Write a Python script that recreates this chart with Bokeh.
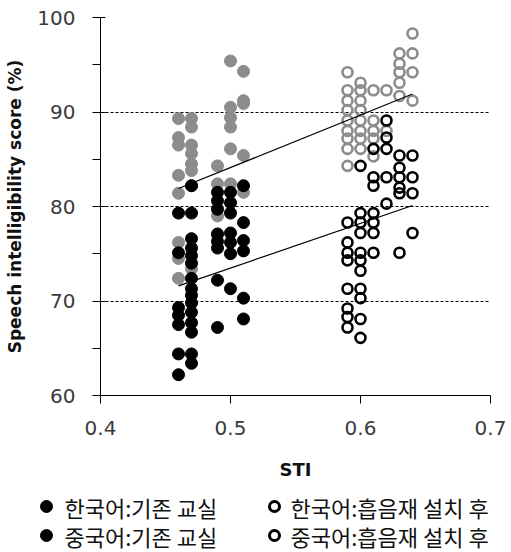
from bokeh.plotting import figure
from bokeh.layouts import column
from bokeh.models import Range1d, FixedTicker
from bokeh.core.properties import value
from bokeh.embed import file_html
from bokeh.resources import INLINE

# ---- data ----
kor_before_x = [0.46]*8 + [0.47]*8 + [0.49]*4 + [0.50]*6 + [0.51]*5
kor_before_y = [89.3, 87.3, 86.5, 83.3, 81.4, 76.2, 74.5, 72.4,
                89.3, 88.4, 86.5, 85.6, 84.5, 83.8, 82.2, 73.4,
                84.3, 82.4, 79.0, 77.0,
                95.4, 90.5, 89.4, 88.4, 86.1, 82.4,
                94.3, 91.2, 90.9, 85.4, 81.5]

chn_before_x = [0.46]*7 + [0.47]*15 + [0.49]*8 + [0.50]*7 + [0.51]*6
chn_before_y = [79.3, 75.1, 69.3, 68.5, 67.5, 64.4, 62.2,
                82.2, 79.3, 76.6, 75.6, 74.8, 74.0, 72.4, 71.3, 70.6, 69.8, 68.8, 67.7, 66.7, 64.4, 63.4,
                81.5, 80.6, 79.7, 77.1, 76.3, 75.6, 72.2, 67.2,
                81.5, 80.4, 79.3, 77.2, 76.2, 75.0, 71.3,
                82.2, 78.3, 76.4, 75.3, 70.3, 68.1]

kor_after_x = [0.59]*9 + [0.60]*8 + [0.61]*5 + [0.62]*2 + [0.63]*5 + [0.64]*4
kor_after_y = [94.2, 92.3, 91.2, 90.2, 89.1, 88.0, 87.2, 86.1, 84.3,
               93.1, 92.3, 91.2, 90.2, 89.1, 88.0, 87.2, 86.1,
               92.3, 89.1, 88.0, 87.2, 85.3,
               92.3, 88.0,
               96.2, 95.1, 94.2, 93.1, 91.7,
               98.3, 96.2, 94.2, 91.2]

chn_after_x = [0.59]*8 + [0.60]*11 + [0.61]*7 + [0.62]*5 + [0.63]*6 + [0.64]*4
chn_after_y = [78.3, 76.2, 75.1, 74.3, 71.3, 69.2, 68.3, 67.2,
               84.3, 79.3, 78.3, 77.2, 75.1, 74.3, 73.2, 71.3, 70.3, 68.1, 66.1,
               86.1, 83.1, 82.2, 79.3, 78.3, 77.2, 75.1,
               89.1, 87.3, 86.1, 83.1, 80.3,
               85.4, 84.1, 83.1, 82.0, 81.4, 75.1,
               85.4, 83.1, 81.4, 77.2]

trend_x = [0.46, 0.64]
trend_kor_y = [81.9, 91.9]
trend_chn_y = [71.6, 80.1]

x_ticks = [0.4, 0.5, 0.6, 0.7]
y_ticks = [60, 70, 80, 90, 100]
y_minor = [65, 75, 85, 95]
grid_lines = [70, 80, 90]

legend_labels = ["한국어:기존 교실", "한국어:흡음재 설치 후",
                 "중국어:기존 교실", "중국어:흡음재 설치 후"]

GREY = "#8c8c8c"

p = figure(width=511, height=486, output_backend="svg", toolbar_location=None,
           x_range=Range1d(0.4, 0.7), y_range=Range1d(60, 100),
           min_border_left=100, min_border_right=21, min_border_top=17,
           min_border_bottom=91)
p.frame_align = False
p.outline_line_color = None
p.background_fill_color = "white"
p.border_fill_color = "white"

# grid
p.xgrid.visible = False
p.ygrid.ticker = FixedTicker(ticks=grid_lines)
p.ygrid.grid_line_color = "black"
p.ygrid.grid_line_dash = "3 2"
p.ygrid.grid_line_width = 1

# axes
p.xaxis.ticker = FixedTicker(ticks=x_ticks)
p.yaxis.ticker = FixedTicker(ticks=y_ticks, minor_ticks=y_minor)
for ax in (p.xaxis, p.yaxis):
    ax.axis_line_color = "black"
    ax.axis_line_width = 1
    ax.major_tick_line_color = "black"
    ax.minor_tick_line_color = "black"
    ax.major_tick_in = 5
    ax.major_tick_out = 8
    ax.minor_tick_in = 0
    ax.minor_tick_out = 8
    ax.major_label_text_font = "DejaVu Sans"
    ax.major_label_text_font_size = "20px"
    ax.major_label_text_color = "#3a3a3a"
    ax.axis_label_text_font = "DejaVu Sans"
    ax.axis_label_text_font_style = "bold"
    ax.axis_label_text_color = "#111111"
p.xaxis.minor_tick_out = 0
p.xaxis.major_tick_in = 0
p.xaxis.major_label_standoff = 17
p.yaxis.major_label_standoff = 17
p.xaxis.axis_label = "STI"
p.yaxis.axis_label = "Speech intelligibility score (%)"
p.xaxis.axis_label_text_font_size = "18px"
p.yaxis.axis_label_text_font_size = "17px"
p.xaxis.axis_label_standoff = 21
p.yaxis.axis_label_standoff = 9

# points
p.scatter(kor_before_x, kor_before_y, size=12, fill_color=GREY, line_color=GREY)
p.scatter(chn_before_x, chn_before_y, size=12, fill_color="black", line_color="black")
p.scatter(kor_after_x, kor_after_y, size=10, fill_color=None, line_color=GREY, line_width=2.6)
p.scatter(chn_after_x, chn_after_y, size=10, fill_color=None, line_color="black", line_width=2.6)

p.line(trend_x, trend_kor_y, line_color="black", line_width=1.2)
p.line(trend_x, trend_chn_y, line_color="black", line_width=1.2)

# ---- legend strip (its own small figure below the chart, not frame-aligned) ----
LEG_W, LEG_H = 511, 66
leg = figure(width=LEG_W, height=LEG_H, output_backend="svg", toolbar_location=None,
             x_range=Range1d(0, LEG_W), y_range=Range1d(0, LEG_H),
             min_border_left=0, min_border_right=0, min_border_top=0, min_border_bottom=0)
leg.frame_align = False
leg.axis.visible = False
leg.grid.visible = False
leg.outline_line_color = None
leg.background_fill_color = "white"
leg.border_fill_color = "white"

col_marker_x = [46, 274]
col_text_x = [64, 290]
row_y = [46, 17]

leg.scatter([col_marker_x[0]] * 2, row_y, size=12, fill_color="black", line_color="black")
leg.scatter([col_marker_x[1]] * 2, row_y, size=10, fill_color=None, line_color="black", line_width=3)
leg.text(x=[col_text_x[0], col_text_x[1], col_text_x[0], col_text_x[1]],
         y=[row_y[0], row_y[0], row_y[1], row_y[1]],
         text=legend_labels,
         text_font=value("Noto Sans CJK KR"), text_font_size="22px",
         text_color="#111111", text_baseline="middle", text_align="left")

layout = column(p, leg, spacing=0)
open("out.html", "w").write(file_html(layout, INLINE))
